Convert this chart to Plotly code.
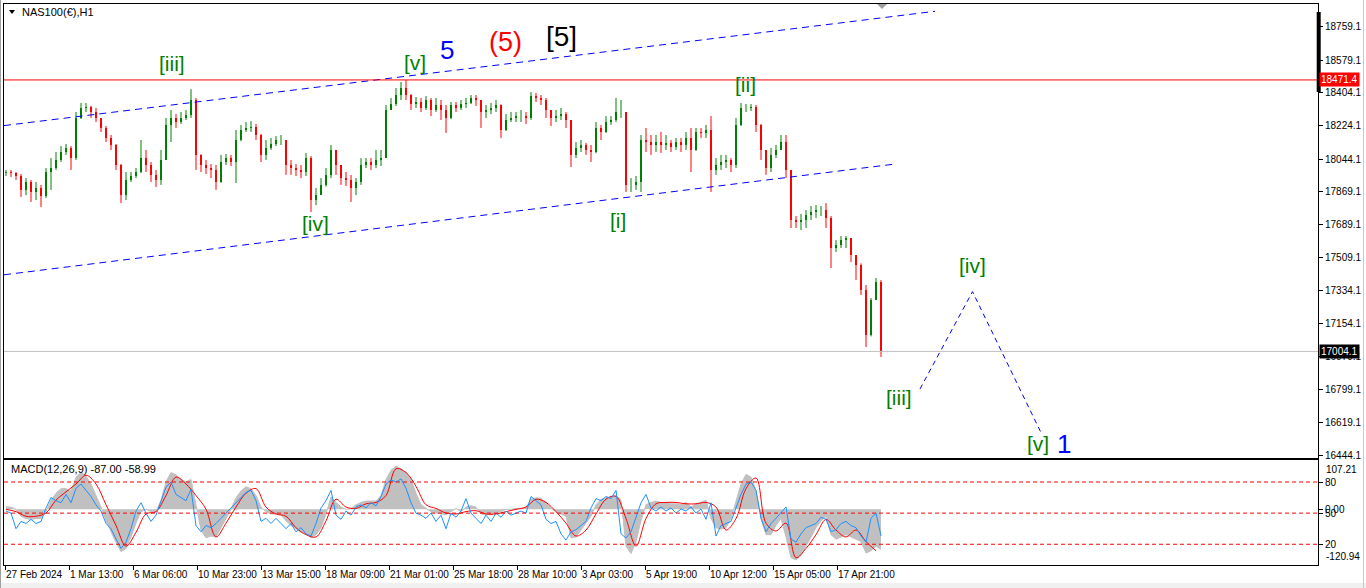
import plotly.graph_objects as go

# ---------------- data ----------------
symbol_title = "NAS100(€),H1"
macd_title = "MACD(12,26,9) -87.00 -58.99"

date_labels = ["27 Feb 2024", "1 Mar 13:00", "6 Mar 06:00", "10 Mar 23:00", "13 Mar 15:00",
               "18 Mar 09:00", "21 Mar 01:00", "25 Mar 18:00", "28 Mar 10:00", "3 Apr 03:00",
               "5 Apr 19:00", "10 Apr 12:00", "15 Apr 05:00", "17 Apr 21:00"]
price_ticks = [18759.1, 18579.1, 18404.1, 18224.1, 18044.1, 17869.1, 17689.1, 17509.1,
               17334.1, 17154.1, 16979.1, 16799.1, 16619.1, 16444.1]

opens = [17970, 17974, 17968, 17952, 17877, 17920, 17866, 17887, 17844, 17974,
         17995, 18039, 18082, 18104, 18049, 18266, 18320, 18325, 18298, 18266,
         18212, 18158, 18120, 18012, 17849, 17931, 17952, 17974, 18049, 18012,
         17958, 17931, 18039, 18228, 18266, 18244, 18266, 18282, 18363, 18066,
         18012, 17995, 17985, 17920, 18028, 18049, 18028, 18147, 18201, 18212,
         18217, 18174, 18066, 18104, 18125, 18147, 18147, 18012, 17995, 17985,
         17974, 18049, 17822, 17849, 17904, 17958, 18093, 18012, 17941, 17931,
         17887, 17920, 18012, 18028, 18012, 18039, 18049, 18309, 18341, 18390,
         18428, 18390, 18341, 18352, 18320, 18363, 18309, 18336, 18309, 18266,
         18336, 18320, 18341, 18347, 18374, 18363, 18298, 18309, 18320, 18336,
         18201, 18255, 18266, 18276, 18276, 18266, 18384, 18374, 18363, 18309,
         18266, 18276, 18287, 18255, 18066, 18104, 18120, 18093, 18082, 18212,
         18190, 18244, 18255, 18298, 18298, 17904, 17904, 17920, 18147, 18136,
         18120, 18136, 18120, 18131, 18109, 18136, 18120, 18158, 18093, 18190,
         18185, 18201, 17985, 18012, 18028, 18039, 18012, 18228, 18320, 18320,
         18325, 18228, 18093, 17995, 18066, 18093, 18136, 17985, 17714, 17704,
         17714, 17741, 17758, 17768, 17768, 17725, 17563, 17579, 17606, 17617,
         17525, 17471, 17336, 17093, 17282, 17379]

highs = [17985, 17985, 17974, 17963, 17941, 17931, 17920, 17904, 17995, 18049,
         18082, 18114, 18125, 18114, 18298, 18347, 18347, 18331, 18320, 18266,
         18222, 18174, 18125, 18017, 17974, 17974, 17995, 18147, 18093, 18028,
         17985, 18093, 18266, 18309, 18287, 18298, 18309, 18422, 18374, 18070,
         18039, 18017, 18012, 18066, 18071, 18066, 18201, 18228, 18244, 18249,
         18233, 18180, 18147, 18158, 18168, 18174, 18147, 18039, 18017, 18012,
         18077, 18060, 17887, 17941, 17995, 18120, 18093, 18012, 17974, 17958,
         17941, 18049, 18049, 18049, 18093, 18093, 18336, 18374, 18428, 18460,
         18471, 18395, 18379, 18374, 18384, 18374, 18374, 18363, 18336, 18352,
         18352, 18363, 18374, 18390, 18390, 18363, 18336, 18347, 18363, 18340,
         18287, 18298, 18298, 18309, 18298, 18406, 18401, 18390, 18374, 18309,
         18309, 18320, 18298, 18255, 18136, 18147, 18131, 18120, 18244, 18228,
         18276, 18276, 18374, 18363, 18298, 17941, 17952, 18174, 18212, 18174,
         18174, 18190, 18174, 18147, 18158, 18158, 18190, 18212, 18212, 18212,
         18228, 18276, 18049, 18066, 18066, 18049, 18266, 18347, 18341, 18341,
         18336, 18233, 18093, 18104, 18120, 18174, 18174, 17985, 17736, 17747,
         17768, 17790, 17795, 17790, 17806, 17736, 17606, 17628, 17628, 17617,
         17525, 17480, 17363, 17293, 17401, 17390]

lows = [17952, 17947, 17931, 17839, 17849, 17812, 17822, 17785, 17833, 17877,
        17985, 18028, 18066, 17985, 18039, 18260, 18298, 18266, 18244, 18190,
        18136, 18093, 17985, 17806, 17822, 17920, 17941, 17968, 17974, 17920,
        17893, 17904, 18039, 18136, 18212, 18233, 18255, 18266, 17985, 17974,
        17963, 17941, 17877, 17915, 18012, 18006, 17914, 18140, 18190, 18190,
        18147, 18028, 18039, 18093, 18114, 18120, 17958, 17958, 17952, 17941,
        17952, 17758, 17795, 17849, 17895, 17941, 17958, 17904, 17898, 17812,
        17849, 17904, 17995, 17985, 17995, 18006, 18049, 18309, 18331, 18363,
        18363, 18309, 18320, 18298, 18309, 18276, 18298, 18255, 18185, 18260,
        18298, 18309, 18320, 18341, 18331, 18212, 18266, 18287, 18298, 18158,
        18195, 18244, 18244, 18244, 18233, 18255, 18352, 18336, 18266, 18222,
        18244, 18255, 18212, 18001, 18049, 18082, 18066, 18028, 18075, 18147,
        18185, 18228, 18244, 18266, 17866, 17866, 17877, 17866, 18082, 18066,
        18082, 18077, 18093, 18082, 18093, 18082, 18093, 17974, 18088, 18158,
        18158, 17866, 17958, 17985, 17995, 17974, 17995, 18222, 18298, 18303,
        18190, 18039, 17958, 17974, 18049, 18093, 17941, 17671, 17671, 17660,
        17671, 17714, 17725, 17736, 17671, 17455, 17541, 17563, 17563, 17487,
        17390, 17309, 17028, 17085, 17282, 16974]

closes = [17974, 17968, 17952, 17877, 17920, 17866, 17887, 17844, 17974, 17995,
          18039, 18082, 18104, 18049, 18266, 18320, 18325, 18298, 18266, 18212,
          18158, 18120, 18012, 17849, 17931, 17952, 17974, 18049, 18012, 17958,
          17931, 18039, 18228, 18266, 18244, 18266, 18282, 18363, 18066, 18012,
          17995, 17985, 17920, 18028, 18049, 18028, 18147, 18201, 18212, 18217,
          18174, 18066, 18104, 18125, 18147, 18147, 18012, 17995, 17985, 17974,
          18049, 17822, 17849, 17904, 17958, 18093, 18012, 17941, 17931, 17887,
          17920, 18012, 18028, 18012, 18039, 18049, 18309, 18341, 18390, 18428,
          18390, 18341, 18352, 18320, 18363, 18309, 18336, 18309, 18266, 18336,
          18320, 18341, 18347, 18374, 18363, 18298, 18309, 18320, 18336, 18201,
          18255, 18266, 18276, 18276, 18266, 18384, 18374, 18363, 18309, 18266,
          18276, 18287, 18255, 18066, 18104, 18120, 18093, 18082, 18212, 18190,
          18244, 18255, 18298, 18298, 17904, 17904, 17920, 18147, 18136, 18120,
          18136, 18120, 18131, 18109, 18136, 18120, 18158, 18093, 18190, 18185,
          18201, 17985, 18012, 18028, 18039, 18012, 18228, 18320, 18320, 18325,
          18228, 18093, 17995, 18066, 18093, 18136, 17985, 17714, 17704, 17714,
          17741, 17758, 17768, 17768, 17725, 17563, 17579, 17606, 17617, 17525,
          17471, 17336, 17093, 17282, 17379, 17004.1]

macd_main = [5, 5, 0, -15, -20, -22, -20, -20, -5, 20,
             35, 45, 45, 40, 70, 80, 72, 55, 30, 5,
             -25, -50, -72, -92, -85, -60, -30, -5, 0, -5,
             -5, 20, 60, 80, 75, 65, 60, 65, 10, -45,
             -62, -58, -60, -40, -20, 0, 25, 40, 49, 45,
             30, 5, -5, -10, -10, -12, -25, -35, -42, -50,
             -52, -62, -55, -40, -10, 27, 15, 5, 0, 2,
             10, 15, 18, 18, 18, 30, 65, 85, 94, 88,
             80, 65, 35, 10, 3, -5, -8, -10, -12, -5,
             2, -5, 5, 8, 5, -10, -12, -10, -8, -5,
             0, 0, 2, 2, 5, 22, 25, 24, 15, 2,
             -5, -10, -15, -62, -60, -45, -30, -15, 10, 22,
             25, 27, 30, 20, -80, -96, -70, -25, 10, 15,
             18, 15, 15, 12, 12, 10, 15, 5, 12, 15,
             20, -20, -40, -43, -40, -20, 15, 55, 76, 70,
             40, -20, -55, -55, -35, -20, -60, -105, -110, -100,
             -80, -60, -40, -25, -15, -55, -65, -60, -55, -60,
             -65, -70, -95, -90, -80, -87]

# signal line, sampled on every second bar
macd_signal = [0, -5, -15, -15, -8, 20, 38, 55, 74, 55,
               10, -35, -80, -50, -10, -5, 30, 70, 55, 30,
               0, -60, -30, 5, 35, 45, 5, -10, -15, -40,
               -55, -60, -25, 22, 5, 2, 12, 15, 30, 88,
               80, 50, 10, 2, -8, -10, -5, -3, -10, -10,
               -5, 0, 5, 22, 15, -5, -30, -58, -45, -10,
               22, 28, -20, -80, -20, 12, 15, 15, 12, 12,
               15, 5, -45, -20, 45, 68, -30, -47, -30, -105,
               -85, -55, -22, -45, -60, -45, -70, -90]

osc_line = [52, 50, 35, 42, 40, 44, 40, 42, 55, 65,
            62, 60, 68, 60, 74, 78, 72, 66, 58, 52,
            40, 35, 25, 16, 22, 35, 52, 60, 50, 42,
            48, 62, 75, 80, 68, 65, 62, 73, 38, 32,
            38, 36, 40, 45, 50, 55, 60, 65, 70, 72,
            62, 42, 45, 40, 45, 40, 35, 40, 32, 36,
            30, 28, 40, 55, 62, 72, 48, 44, 52, 48,
            56, 58, 55, 60, 57, 66, 78, 82, 80, 83,
            74, 60, 50, 48, 45, 50, 42, 48, 35, 50,
            46, 52, 64, 50, 45, 40, 48, 42, 50, 46,
            52, 48, 50, 52, 50, 66, 62, 58, 44, 40,
            42, 30, 24, 32, 34, 38, 42, 55, 64, 62,
            66, 64, 72, 30, 26, 32, 45, 60, 68, 55,
            52, 56, 52, 55, 50, 54, 52, 56, 50, 54,
            44, 60, 28, 38, 40, 42, 55, 68, 78, 80,
            72, 45, 32, 40, 45, 50, 56, 25, 22, 30,
            36, 38, 40, 46, 44, 32, 34, 40, 42, 38,
            36, 28, 22, 45, 50, 28]

osc_levels = [80, 50, 20]
macd_max, macd_min = 107.21, -120.94
high_price = 18471.4
last_price = 17004.1

# trend channel and projection (bar index, price)
upper_channel_bar = [-0.4, 185.8]
upper_channel_price = [18224.6, 18842.4]
lower_channel_bar = [-0.4, 177.4]
lower_channel_price = [17418.2, 18015.5]
projection_bar = [182.8, 193.3, 206.9]
projection_price = [16801, 17327, 16571]

wave_text = ["[iii]", "[v]", "5", "(5)", "[5]", "[ii]", "[iv]", "[i]",
             "[iv]", "[iii]", "[v]", "1"]
wave_bar = [33.2, 81.8, 88.2, 99.8, 111.0, 147.8, 61.8, 122.4, 193.2, 178.6, 206.4, 211.6]
wave_price = [18563, 18568, 18631, 18679, 18706, 18449, 17698, 17712, 17466, 16755, 16504, 16504]

# ---------------- styles ----------------
GREEN = "#008000"
RED = "#FF0000"
BLUE = "#0000FF"
FONT = "Liberation Sans"
wave_color = [GREEN, GREEN, BLUE, RED, "#000000", GREEN, GREEN, GREEN, GREEN, GREEN, GREEN, BLUE]
wave_size = [21, 21, 26, 27, 28, 21, 21, 21, 21, 21, 21, 26]

W, H = 1366, 588
ML, MR, MT, MB = 4, 48, 4, 23
PW, PH = W - ML - MR, H - MT - MB
main_bottom_px, macd_top_px = 457.5, 460


def py2paper(py):
    return (H - MB - py) / PH


def px2paper(px):
    return (px - ML) / PW


n = len(closes)
bars = list(range(n))
x_left, x_right = -0.4, 262.4

fig = go.Figure()


def segs(idx, a, b):
    xs, ys = [], []
    for i in idx:
        xs += [bars[i], bars[i], None]
        ys += [a[i], b[i], None]
    return xs, ys


up = [i for i in range(n) if closes[i] >= opens[i]]
dn = [i for i in range(n) if closes[i] < opens[i]]
wick_lo = [min(lows[i], opens[i], closes[i]) for i in range(n)]
wick_hi = [max(highs[i], opens[i], closes[i]) for i in range(n)]

for idx, col in ((up, GREEN), (dn, RED)):
    xs, ys = segs(idx, wick_lo, wick_hi)
    fig.add_trace(go.Scatter(x=xs, y=ys, mode="lines", line=dict(color=col, width=1),
                             hoverinfo="skip", showlegend=False, xaxis="x", yaxis="y"))
    xs, ys = segs(idx, opens, closes)
    fig.add_trace(go.Scatter(x=xs, y=ys, mode="lines", line=dict(color=col, width=2),
                             hoverinfo="skip", showlegend=False, xaxis="x", yaxis="y"))

# channel lines
for bx, pr in ((upper_channel_bar, upper_channel_price), (lower_channel_bar, lower_channel_price)):
    fig.add_trace(go.Scatter(x=bx, y=pr, mode="lines", line=dict(color=BLUE, width=1, dash="7px,5px"),
                             hoverinfo="skip", showlegend=False, xaxis="x", yaxis="y"))
# projection
fig.add_trace(go.Scatter(x=projection_bar, y=projection_price, mode="lines",
                         line=dict(color=BLUE, width=1, dash="5px,4px"),
                         hoverinfo="skip", showlegend=False, xaxis="x", yaxis="y"))

# MACD panel
fig.add_trace(go.Scatter(x=bars, y=macd_main, mode="lines", fill="tozeroy", fillcolor="#C0C0C0",
                         line=dict(color="#C0C0C0", width=1), hoverinfo="skip", showlegend=False,
                         xaxis="x2", yaxis="y2"))
fig.add_trace(go.Scatter(x=bars[::2], y=macd_signal, mode="lines", line=dict(color=RED, width=1, shape="spline"),
                         hoverinfo="skip", showlegend=False, xaxis="x2", yaxis="y2"))
fig.add_trace(go.Scatter(x=bars, y=osc_line, mode="lines", line=dict(color="#1E90FF", width=1),
                         hoverinfo="skip", showlegend=False, xaxis="x2", yaxis="y3"))

shapes = []
for lv in osc_levels:
    shapes.append(dict(type="line", xref="paper", x0=0, x1=1, yref="y3", y0=lv, y1=lv,
                       line=dict(color=RED, width=1, dash="4px,3px")))
shapes.append(dict(type="line", xref="paper", x0=0, x1=1, yref="y", y0=high_price, y1=high_price,
                   line=dict(color=RED, width=1)))
shapes.append(dict(type="line", xref="paper", x0=0, x1=1, yref="y", y0=last_price, y1=last_price,
                   line=dict(color="#C0C0C0", width=1)))
# thick marker on the price scale
shapes.append(dict(type="line", xref="paper", x0=px2paper(1318.7), x1=px2paper(1318.7),
                   yref="paper", y0=py2paper(92), y1=py2paper(12), line=dict(color="#000000", width=4)))
# small triangles
shapes.append(dict(type="path", xref="paper", yref="paper",
                   path="M %f %f L %f %f L %f %f Z" % (px2paper(9), py2paper(10), px2paper(15), py2paper(10),
                                                       px2paper(12), py2paper(14)),
                   fillcolor="#000000", line=dict(width=0)))
shapes.append(dict(type="path", xref="paper", yref="paper",
                   path="M %f %f L %f %f L %f %f Z" % (px2paper(877), py2paper(4), px2paper(887), py2paper(4),
                                                       px2paper(882), py2paper(9)),
                   fillcolor="#A0A0A0", line=dict(width=0)))
# window frame bits
shapes.append(dict(type="rect", xref="paper", yref="paper", x0=px2paper(0), x1=px2paper(W),
                   y0=py2paper(H), y1=py2paper(583), fillcolor="#F0F0F0", line=dict(width=0), layer="below"))
shapes.append(dict(type="line", xref="paper", yref="paper", x0=px2paper(0.5), x1=px2paper(0.5),
                   y0=py2paper(H), y1=py2paper(0), line=dict(color="#A0A0A0", width=1)))
shapes.append(dict(type="line", xref="paper", yref="paper", x0=px2paper(1363.5), x1=px2paper(1363.5),
                   y0=py2paper(H), y1=py2paper(0), line=dict(color="#C8C8C8", width=1)))

annotations = []
for t, bx, pr, col, sz in zip(wave_text, wave_bar, wave_price, wave_color, wave_size):
    annotations.append(dict(x=bx, y=pr, xref="x", yref="y", text=t, showarrow=False,
                            font=dict(family=FONT, size=sz, color=col), xanchor="center", yanchor="middle"))
annotations.append(dict(x=px2paper(20), y=py2paper(12), xref="paper", yref="paper", text=symbol_title,
                        showarrow=False, xanchor="left", yanchor="middle",
                        font=dict(family=FONT, size=11, color="#000000")))
annotations.append(dict(x=px2paper(9), y=py2paper(469), xref="paper", yref="paper", text=macd_title,
                        showarrow=False, xanchor="left", yanchor="middle",
                        font=dict(family=FONT, size=11, color="#000000")))
annotations.append(dict(x=1, y=macd_max, xref="paper", yref="y2", text="%.2f" % macd_max, showarrow=False,
                        xanchor="left", yanchor="top", xshift=6, yshift=-2,
                        font=dict(family=FONT, size=10, color="#000000")))
annotations.append(dict(x=1, y=macd_min, xref="paper", yref="y2", text="%.2f" % macd_min, showarrow=False,
                        xanchor="left", yanchor="bottom", xshift=6, yshift=1,
                        font=dict(family=FONT, size=10, color="#000000")))
annotations.append(dict(x=1, y=high_price, xref="paper", yref="y", text="%.1f" % high_price, showarrow=False,
                        xanchor="left", yanchor="middle", xshift=1, bgcolor=RED, borderpad=1,
                        font=dict(family=FONT, size=10, color="#FFFFFF")))
annotations.append(dict(x=1, y=last_price, xref="paper", yref="y", text="%.1f" % last_price, showarrow=False,
                        xanchor="left", yanchor="middle", xshift=1, bgcolor="#000000", borderpad=1,
                        font=dict(family=FONT, size=10, color="#FFFFFF")))

date_pos = [-0.2 + 12.8 * k for k in range(len(date_labels))]
tickfont = dict(family=FONT, size=10, color="#000000")
main_dom = [py2paper(main_bottom_px), 1]
macd_dom = [0, py2paper(macd_top_px)]

fig.update_layout(
    width=W, height=H, template="none",
    margin=dict(l=ML, r=MR, t=MT, b=MB, pad=0),
    paper_bgcolor="#FFFFFF", plot_bgcolor="#FFFFFF",
    showlegend=False, hovermode=False,
    shapes=shapes, annotations=annotations,
    xaxis=dict(domain=[0, 1], anchor="y", range=[x_left, x_right], showticklabels=False, ticks="",
               showgrid=False, zeroline=False, showline=True, linecolor="#000000", linewidth=1, mirror=True),
    yaxis=dict(domain=main_dom, anchor="x", side="right", range=[16430.7, 18881.9],
               tickvals=price_ticks, ticktext=["%.1f" % v for v in price_ticks],
               ticks="outside", ticklen=4, tickcolor="#000000", tickfont=tickfont,
               showgrid=False, zeroline=False, showline=True, linecolor="#000000", linewidth=1, mirror=True),
    xaxis2=dict(domain=[0, 1], anchor="y2", range=[x_left, x_right], tickvals=date_pos, ticktext=date_labels,
                ticks="outside", ticklen=4, tickcolor="#000000", tickfont=tickfont, tickangle=0,
                ticklabelposition="outside right",
                showgrid=False, zeroline=False, showline=True, linecolor="#000000", linewidth=1, mirror=True),
    yaxis2=dict(domain=macd_dom, anchor="x2", side="right", range=[macd_min, macd_max],
                tickvals=[0], ticktext=["0.00"], ticks="outside", ticklen=4, tickcolor="#000000",
                tickfont=tickfont, showgrid=False, zeroline=False, showline=True, linecolor="#000000",
                linewidth=1, mirror=True),
    yaxis3=dict(overlaying="y2", anchor="x2", side="right", range=[0, 101.2],
                tickvals=osc_levels, ticktext=[str(v) for v in osc_levels], ticks="outside", ticklen=4,
                tickcolor="#000000", tickfont=tickfont, showgrid=False, zeroline=False, showline=False),
)

fig.write_html("out.html", config={"displayModeBar": False},
               post_script="document.body.style.margin='0';document.body.style.padding='0';")
